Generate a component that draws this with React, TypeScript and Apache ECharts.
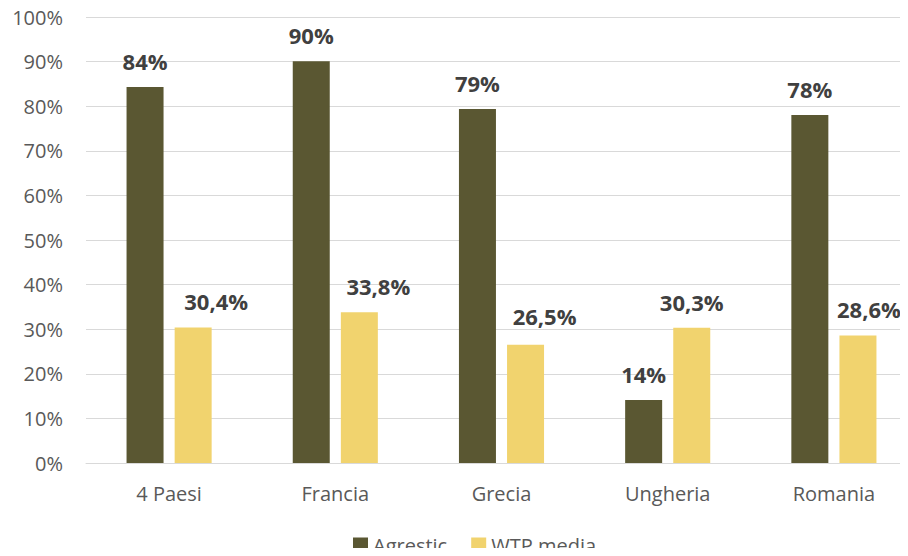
import React, { useEffect, useRef } from "react";
import * as echarts from "echarts";

const categories = ["4 Paesi", "Francia", "Grecia", "Ungheria", "Romania"];
const agrestic = [84.3, 90.1, 79.4, 14.1, 78.0];
const wtpMedia = [30.4, 33.8, 26.5, 30.3, 28.6];
const seriesNames = ["Agrestic", "WTP media"];
const yTicks = [0, 10, 20, 30, 40, 50, 60, 70, 80, 90, 100];

// label nudges (styling only)
const wtpLabelOffsets: [number, number][] = [[23, 0], [19, 0], [19, -3], [0, 0], [11, 0]];

const FONT = "'Open Sans', 'Noto Sans', sans-serif";

export default function App() {
  const ref = useRef<HTMLDivElement>(null);
  useEffect(() => {
    if (!ref.current) return;
    const chart = echarts.init(ref.current, null, { renderer: "svg" });
    const labelStyle = {
      show: true,
      position: "top",
      distance: 15,
      fontFamily: FONT,
      fontWeight: "bold",
      fontSize: 22,
      color: "#404040",
    };
    chart.setOption({
      animation: false,
      textStyle: { fontFamily: FONT },
      grid: { left: 86, right: 0, top: 17, bottom: 93, containLabel: false },
      legend: {
        left: 348,
        top: 530,
        itemWidth: 15,
        itemHeight: 15,
        itemGap: 24,
        icon: "rect",
        textStyle: { fontFamily: FONT, fontSize: 20, color: "#595959" },
        data: seriesNames,
      },
      xAxis: {
        type: "category",
        data: categories,
        axisLine: { show: true, lineStyle: { color: "#D9D9D9", width: 1 } },
        axisTick: { show: false },
        axisLabel: { fontFamily: FONT, fontSize: 20, color: "#595959", margin: 20 },
      },
      yAxis: {
        type: "value",
        min: yTicks[0],
        max: yTicks[yTicks.length - 1],
        interval: 10,
        axisLine: { show: false },
        axisTick: { show: false },
        splitLine: { lineStyle: { color: "#D9D9D9", width: 1 } },
        axisLabel: {
          fontFamily: FONT,
          fontSize: 20,
          color: "#595959",
          margin: 23,
          formatter: (v: number) => `${v}%`,
        },
      },
      series: [
        {
          name: seriesNames[0],
          type: "bar",
          data: agrestic,
          barWidth: 37,
          barGap: "30%",
          itemStyle: { color: "#5A5732" },
          label: { ...labelStyle, formatter: (p: any) => `${Math.round(p.value)}%` },
        },
        {
          name: seriesNames[1],
          type: "bar",
          data: wtpMedia.map((v, i) => ({
            value: v,
            label: { offset: wtpLabelOffsets[i] },
          })),
          barWidth: 37,
          itemStyle: { color: "#F1D36E" },
          label: {
            ...labelStyle,
            formatter: (p: any) => `${Number(p.value).toFixed(1).replace(".", ",")}%`,
          },
        },
      ],
    });
    return () => chart.dispose();
  }, []);
  return (
    <div style={{ width: 908, height: 556, margin: -8, overflow: "hidden", position: "relative" }}>
      <div ref={ref} style={{ width: 917, height: 556 }} />
    </div>
  );
}
